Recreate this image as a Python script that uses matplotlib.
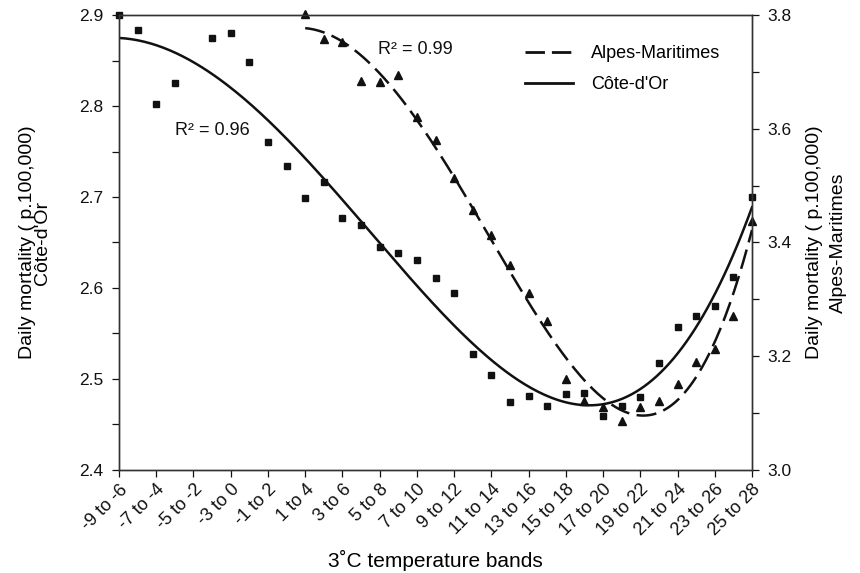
import numpy as np
import matplotlib
matplotlib.use("Agg")
import matplotlib.pyplot as plt
from matplotlib.ticker import MultipleLocator
from matplotlib.lines import Line2D

plt.rcParams['font.family'] = ['Liberation Sans', 'DejaVu Sans']

# 3 °C temperature bands, one per degree of lower bound
band_starts = list(range(-9, 26))
band_labels = [f"{s} to {s + 3}" for s in band_starts]

# Daily mortality per 100,000, Côte-d'Or (left axis)
cote_dor = [2.900, 2.884, 2.802, 2.825, np.nan, 2.875, 2.880, 2.848, 2.760, 2.734,
            2.699, 2.716, 2.677, 2.669, 2.645, 2.639, 2.631, 2.611, 2.594, 2.527,
            2.504, 2.475, 2.481, 2.470, 2.484, 2.485, 2.459, 2.470, 2.480, 2.518,
            2.557, 2.569, 2.580, 2.612, 2.700]

# Daily mortality per 100,000, Alpes-Maritimes (right axis), from band "1 to 4"
alpes_first_band = 1
alpes_maritimes = [3.801, 3.757, 3.753, 3.684, 3.683, 3.695, 3.621, 3.580, 3.513, 3.457,
                   3.413, 3.360, 3.311, 3.262, 3.160, 3.121, 3.111, 3.086, 3.111, 3.121,
                   3.151, 3.190, 3.212, 3.271, 3.437]

r2_cote = "R² = 0.96"
r2_alpes = "R² = 0.99"

x_cd = np.arange(len(cote_dor), dtype=float)
y_cd = np.array(cote_dor)
i0 = band_starts.index(alpes_first_band)
x_am = np.arange(i0, i0 + len(alpes_maritimes), dtype=float)
y_am = np.array(alpes_maritimes)

# polynomial trend lines
ok = ~np.isnan(y_cd)
p_cd = np.polyfit(x_cd[ok], y_cd[ok], 4)
p_am = np.polyfit(x_am, y_am, 4)
xs_cd = np.linspace(x_cd[0], x_cd[-1], 300)
xs_am = np.linspace(x_am[0], x_am[-1], 300)

fig = plt.figure(figsize=(8.6, 5.73), dpi=100)
ax = fig.add_axes([0.1384, 0.1798, 0.7360, 0.7940])
ax2 = ax.twinx()

ink = '#111111'
ax.plot(xs_cd, np.polyval(p_cd, xs_cd), color=ink, lw=1.8)
ax.plot(x_cd, y_cd, ls='none', marker='s', ms=4.3, color=ink, clip_on=False)
ax2.plot(xs_am, np.polyval(p_am, xs_am), color=ink, lw=1.8, dashes=(8, 3))
ax2.plot(x_am, y_am, ls='none', marker='^', ms=6.0, color=ink, clip_on=False)

ax.set_xlim(0, len(band_starts) - 1)
ax.set_ylim(2.4, 2.9)
ax2.set_ylim(3.0, 3.8)

ax.set_xticks(np.arange(0, len(band_starts), 2))
ax.set_xticklabels(band_labels[::2], rotation=45, ha='right', va='top',
                   rotation_mode='anchor', fontsize=13)
ax.yaxis.set_major_locator(MultipleLocator(0.1))
ax.yaxis.set_minor_locator(MultipleLocator(0.05))
ax2.yaxis.set_major_locator(MultipleLocator(0.2))
ax2.yaxis.set_minor_locator(MultipleLocator(0.1))
ax.set_yticklabels([f"{v:.1f}" for v in ax.get_yticks()])
ax2.set_yticklabels([f"{v:.1f}" for v in ax2.get_yticks()])

for a in (ax, ax2):
    a.tick_params(axis='both', which='both', direction='out', colors=ink,
                  width=0.9, length=5)
    a.tick_params(axis='y', labelsize=12.5, pad=6)
    for s in a.spines.values():
        s.set_linewidth(1.0)
        s.set_color('#333333')
ax.tick_params(axis='x', pad=3)

ax.set_xlabel("3˚C temperature bands", fontsize=15)
ax.xaxis.set_label_coords(0.5, -0.176)
ax.set_ylabel("Daily mortality ( p.100,000)\nCôte-d'Or", fontsize=14,
              linespacing=0.9)
ax.yaxis.set_label_coords(-0.107, 0.5)
ax2.set_ylabel("Daily mortality ( p.100,000)\nAlpes-Maritimes", fontsize=14,
               linespacing=1.5)
ax2.yaxis.set_label_coords(1.0855, 0.5)

ax.text(0.0885, 0.736, r2_cote, transform=ax.transAxes, fontsize=13,
        color=ink, va='baseline')
ax.text(0.409, 0.914, r2_alpes, transform=ax.transAxes, fontsize=13,
        color=ink, va='baseline')

handles = [Line2D([], [], color=ink, lw=2.0, dashes=(7, 2.5)),
           Line2D([], [], color=ink, lw=2.0)]
ax.legend(handles, ["Alpes-Maritimes", "Côte-d'Or"], loc='upper left',
          bbox_to_anchor=(0.6414, 0.934), frameon=False, fontsize=13,
          handlelength=2.66, handletextpad=1.0, labelspacing=0.77,
          borderpad=0, borderaxespad=0)

fig.savefig("out.png", dpi=100)
